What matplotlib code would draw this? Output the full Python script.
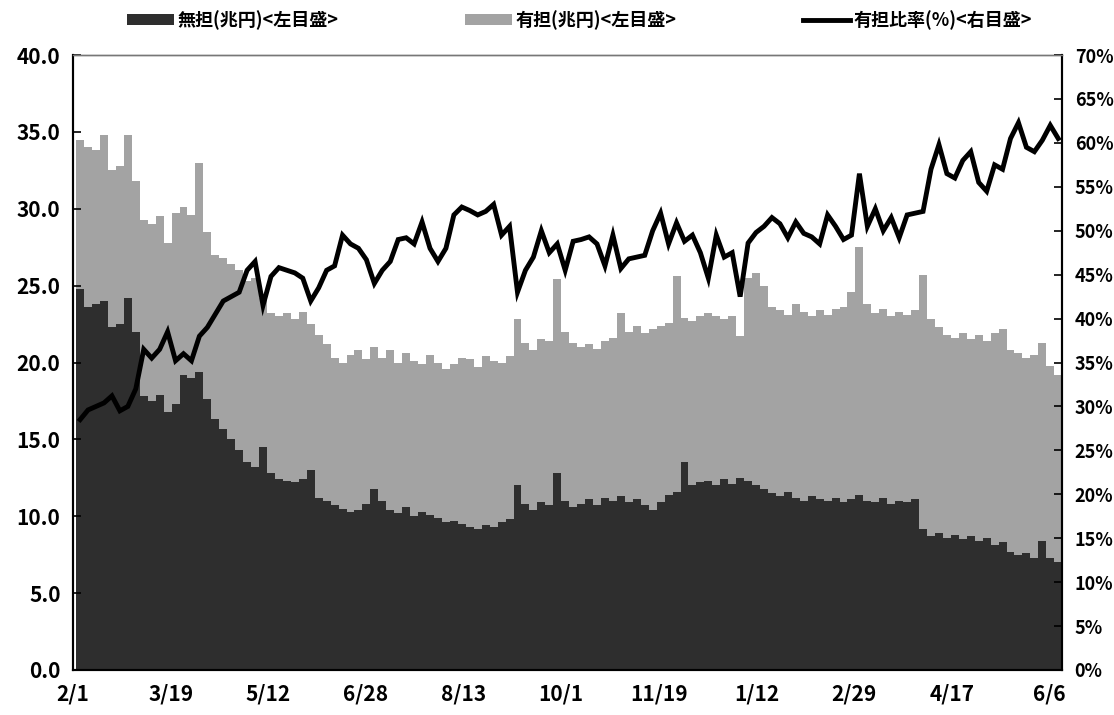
import numpy as np
import matplotlib
matplotlib.use("Agg")
import matplotlib.pyplot as plt
from matplotlib.patches import Patch
from matplotlib.lines import Line2D

plt.rcParams['font.family'] = ['Noto Sans CJK JP', 'DejaVu Sans']
plt.rcParams['font.weight'] = 'bold'

# Dates shown on the category axis
tick_labels = ["2/1", "3/19", "5/12", "6/28", "8/13", "10/1",
               "11/19", "1/12", "2/29", "4/17", "6/6"]

# 無担 (unsecured), trillion yen, left axis
unsecured = [24.8, 23.6, 23.8, 24.0, 22.3, 22.5, 24.2, 22.0, 17.8, 17.5,
             17.9, 16.8, 17.3, 19.2, 19.0, 19.4, 17.6, 16.3, 15.7, 15.0,
             14.3, 13.5, 13.2, 14.5, 12.8, 12.4, 12.3, 12.2, 12.4, 13.0,
             11.2, 11.0, 10.7, 10.5, 10.3, 10.4, 10.8, 11.8, 11.0, 10.4,
             10.2, 10.6, 10.0, 10.3, 10.1, 9.9, 9.6, 9.7, 9.5, 9.3,
             9.2, 9.4, 9.3, 9.6, 9.8, 12.0, 10.8, 10.4, 10.9, 10.7,
             12.8, 11.0, 10.6, 10.8, 11.1, 10.7, 11.2, 11.0, 11.3, 10.9,
             11.1, 10.7, 10.4, 10.9, 11.4, 11.6, 13.5, 12.0, 12.2, 12.3,
             12.0, 12.4, 12.1, 12.5, 12.3, 12.0, 11.8, 11.5, 11.3, 11.6,
             11.2, 11.0, 11.3, 11.1, 11.0, 11.2, 10.9, 11.1, 11.4, 11.0,
             10.9, 11.2, 10.8, 11.0, 10.9, 11.1, 9.2, 8.7, 8.9, 8.6,
             8.8, 8.5, 8.7, 8.4, 8.6, 8.1, 8.3, 7.7, 7.5, 7.6,
             7.3, 8.4, 7.3, 7.0]

# 有担 (secured), trillion yen, left axis (stacked on top)
secured = [9.7, 10.4, 10.0, 10.8, 10.2, 10.3, 10.6, 9.8, 11.5, 11.5,
           11.6, 11.0, 12.4, 10.9, 10.6, 13.6, 10.9, 10.7, 11.1, 11.4,
           11.7, 11.8, 12.3, 9.7, 10.4, 10.6, 10.9, 10.6, 10.9, 9.5,
           10.6, 10.2, 9.6, 9.5, 10.2, 10.4, 9.4, 9.2, 9.3, 10.4,
           9.8, 10.0, 10.1, 9.6, 10.4, 10.1, 10.0, 10.2, 10.8, 10.9,
           10.5, 11.0, 10.8, 10.4, 10.6, 10.8, 10.5, 10.4, 10.6, 10.7,
           12.6, 11.0, 10.7, 10.2, 10.1, 10.2, 10.2, 10.6, 11.9, 11.1,
           11.3, 11.2, 11.8, 11.5, 11.2, 14.0, 9.4, 10.7, 10.8, 10.9,
           11.0, 10.4, 10.9, 9.2, 13.2, 13.8, 13.2, 12.1, 12.1, 11.5,
           12.6, 12.3, 11.7, 12.3, 12.1, 12.3, 12.7, 13.5, 16.1, 12.8,
           12.3, 12.3, 12.2, 12.3, 12.2, 12.3, 16.5, 14.1, 13.4, 13.2,
           12.8, 13.4, 12.8, 13.4, 12.8, 13.8, 13.9, 13.1, 13.1, 12.7,
           13.2, 12.9, 12.5, 12.2]

# 有担比率 (%), right axis
ratio = [28.5, 29.6, 30.0, 30.4, 31.2, 29.5, 30.0, 32.0, 36.5, 35.5,
         36.5, 38.5, 35.2, 36.0, 35.2, 38.0, 39.0, 40.5, 42.0, 42.5,
         43.0, 45.5, 46.5, 41.5, 44.8, 45.8, 45.5, 45.2, 44.6, 42.0,
         43.5, 45.5, 46.0, 49.5, 48.5, 48.0, 46.7, 44.0, 45.5, 46.5,
         49.0, 49.2, 48.5, 51.0, 48.0, 46.5, 48.0, 51.8, 52.7, 52.3,
         51.8, 52.2, 53.0, 49.5, 50.5, 43.0, 45.5, 47.0, 50.0, 47.5,
         48.5, 45.5, 48.8, 49.0, 49.3, 48.5, 46.0, 49.5, 45.7, 46.8,
         47.0, 47.2, 50.0, 52.0, 48.5, 50.9, 48.8, 49.5, 47.5, 44.6,
         49.5, 47.0, 47.5, 42.5, 48.6, 49.8, 50.5, 51.5, 50.8, 49.2,
         51.0, 49.7, 49.3, 48.5, 51.8, 50.5, 49.0, 49.5, 56.5, 50.5,
         52.5, 50.0, 51.5, 49.2, 51.8, 52.0, 52.2, 57.0, 59.8, 56.5,
         56.0, 58.0, 59.0, 55.5, 54.5, 57.5, 57.0, 60.5, 62.3, 59.5,
         59.0, 60.3, 62.0, 60.5]

x = np.arange(len(unsecured))

fig = plt.figure(figsize=(11.14, 7.15), dpi=100)
ax = fig.add_axes([0.0655, 0.063, 0.888, 0.860])

ax.bar(x, unsecured, width=1.0, color='#2e2e2e', linewidth=0)
ax.bar(x, secured, bottom=unsecured, width=1.0, color='#a3a3a3', linewidth=0)

ax.set_xlim(-0.5, len(x) - 0.5)
ax.set_ylim(0, 40)
yt = np.arange(0, 41, 5)
ax.set_yticks(yt)
ax.set_yticklabels([f"{v:.1f}" for v in yt])
ax.tick_params(axis='y', direction='in', length=6, width=1.2, labelsize=15, pad=9)

ax.set_xticks(np.linspace(-0.9, len(x) - 2.1, len(tick_labels)))
ax.set_xticklabels(tick_labels)
ax.tick_params(axis='x', length=0, labelsize=15, pad=10)

ax2 = ax.twinx()
ax2.plot(x, ratio, color='black', lw=3.5, solid_joinstyle='miter')
ax2.set_ylim(0, 70)
rt = np.arange(0, 71, 5)
ax2.set_yticks(rt)
ax2.set_yticklabels([f"{v}%" for v in rt])
ax2.tick_params(axis='y', direction='in', length=6, width=1.2, labelsize=13, pad=9)

for a in (ax, ax2):
    for s in a.spines.values():
        s.set_linewidth(1.5)
    a.spines['top'].set_color('#777777')
    a.spines['top'].set_linewidth(1.0)

handles = [Patch(facecolor='#2e2e2e', edgecolor='none'),
           Patch(facecolor='#a3a3a3', edgecolor='none'),
           Line2D([0], [0], color='black', lw=3.5)]
labels = ["無担(兆円)<左目盛>", "有担(兆円)<左目盛>", "有担比率(%)<右目盛>"]
fig.legend(handles, labels, loc='center', bbox_to_anchor=(0.52, 0.972), ncol=3,
           frameon=False, fontsize=13, handlelength=2.6, handleheight=0.6,
           handletextpad=0.2, columnspacing=7.0)

fig.savefig("out.png", dpi=100)
